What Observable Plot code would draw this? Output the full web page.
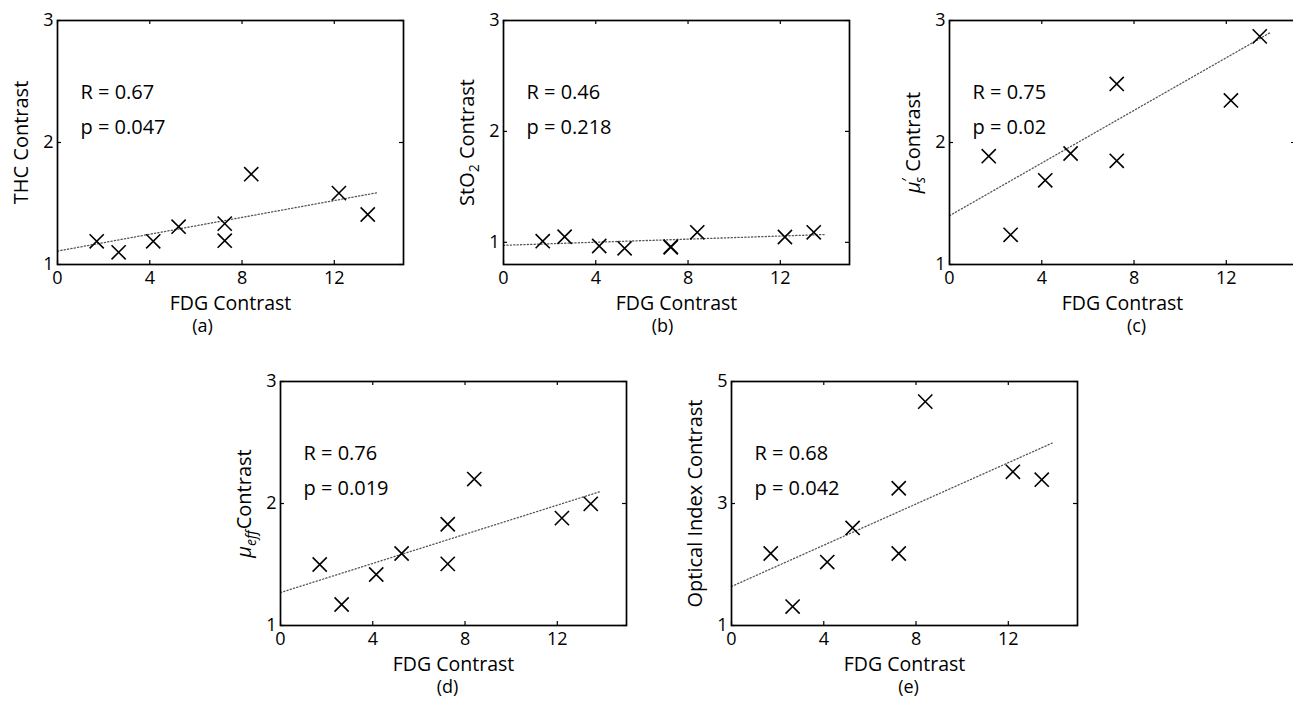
<!DOCTYPE html>
<html><head><meta charset="utf-8">
<script src="https://cdn.jsdelivr.net/npm/d3@7"></script>
<script src="https://cdn.jsdelivr.net/npm/@observablehq/plot@0.6"></script>
<style>
html,body{margin:0;padding:0;background:#fff;overflow:hidden;}
#root{position:relative;width:1293px;height:706px;overflow:hidden;background:#fff;}
.panel{position:absolute;}
.panel svg{max-width:none !important;}
</style></head><body><div id="root"></div>
<script>
// ---- data ----
const fdg     = [1.7, 2.65, 4.15, 5.25, 7.25, 7.25, 8.4, 12.2, 13.45];
const thc     = [1.19, 1.10, 1.19, 1.31, 1.335, 1.195, 1.74, 1.585, 1.41];
const sto2    = [1.01, 1.05, 0.967, 0.946, 0.96, 0.955, 1.09, 1.048, 1.09];
const musp    = [1.888, 1.243, 1.69, 1.91, 2.48, 1.85, null, 2.345, 2.87];
const mueff   = [1.50, 1.172, 1.418, 1.59, 1.83, 1.505, 2.20, 1.88, 1.997];
const optical = [2.18, 1.31, 2.04, 2.60, 3.25, 2.18, 4.67, 3.52, 3.39];

const fitX     = [0, 13.9];
const thcFit   = [1.11, 1.59];
const sto2Fit  = [0.973, 1.07];
const muspFit  = [1.40, 2.90];
const mueffFit = [1.27, 2.10];
const optFit   = [1.64, 3.99];

const xDomain = [0, 15];
const xTicks  = [0, 4, 8, 12];
const yTicks123 = [1, 2, 3];
const yTicks135 = [1, 3, 5];

const rValues = ["R = 0.67", "R = 0.46", "R = 0.75", "R = 0.76", "R = 0.68"];
const pValues = ["p = 0.047", "p = 0.218", "p = 0.02", "p = 0.019", "p = 0.042"];
const yLabels = ["THC Contrast", "StO2 Contrast", "μs' Contrast", "μeff Contrast", "Optical Index Contrast"];
const captions = ["(a)", "(b)", "(c)", "(d)", "(e)"];
const xLabel = "FDG Contrast";

// ---- layout ----
const FONT = "'Open Sans', 'DejaVu Sans', sans-serif";
const FW = 346, FH = 244, TL = 4;
const ML = 62, MR = 12, MT = 12, MB = 82;
const layout = [
  {left: 57,  top: 20,  capDx: -28},
  {left: 503, top: 20,  capDx: -14},
  {left: 949, top: 20,  capDx: 14},
  {left: 280, top: 381, capDx: -6},
  {left: 731, top: 381, capDx: 4}
];

const panels = [
  {y: thc,     fit: thcFit,   yDomain: [1, 3],   yTicks: yTicks123},
  {y: sto2,    fit: sto2Fit,  yDomain: [0.8, 3], yTicks: yTicks123},
  {y: musp,    fit: muspFit,  yDomain: [1, 3],   yTicks: yTicks123},
  {y: mueff,   fit: mueffFit, yDomain: [1, 3],   yTicks: yTicks123},
  {y: optical, fit: optFit,   yDomain: [1, 5],   yTicks: yTicks135}
];

const rich = {
  "StO2 Contrast": [{t: "StO"}, {t: "2", dy: 5, size: "14px"}, {t: " Contrast", dy: -5}],
  "μs' Contrast": [{t: "μ", italic: true}, {t: "′", dy: -8, size: "15px"}, {t: "s", dx: -5, dy: 13, size: "14px", italic: true}, {t: " Contrast", dy: -5}],
  "μeff Contrast": [{t: "μ", italic: true}, {t: "eff", dy: 5, size: "14px", italic: true}, {t: "Contrast", dy: -5, dx: 1}]
};

const root = document.getElementById("root");
panels.forEach((cfg, i) => {
  const pts = fdg.map((x, j) => ({x, y: cfg.y[j]})).filter(d => d.y != null);
  const fit = fitX.map((x, j) => ({x, y: cfg.fit[j]}));
  const W = ML + FW + MR, H = MT + FH + MB;
  const svg = Plot.plot({
    width: W, height: H,
    marginLeft: ML, marginRight: MR, marginTop: MT, marginBottom: MB,
    style: {fontFamily: FONT, fontSize: "18px", color: "black", background: "transparent", overflow: "visible", maxWidth: "none"},
    x: {domain: xDomain, label: null},
    y: {domain: cfg.yDomain, label: null},
    marks: [
      Plot.ruleX(xTicks, {insetTop: FH - TL, stroke: "black", strokeWidth: 1.2}),
      Plot.ruleX(xTicks, {insetBottom: FH - TL, stroke: "black", strokeWidth: 1.2}),
      Plot.ruleY(cfg.yTicks, {insetRight: FW - TL, stroke: "black", strokeWidth: 1.2}),
      Plot.ruleY(cfg.yTicks, {insetLeft: FW - TL, stroke: "black", strokeWidth: 1.2}),
      Plot.line(fit, {x: "x", y: "y", stroke: "#555", strokeWidth: 1.3, strokeDasharray: "1.2 2.2"}),
      Plot.dot(pts, {x: "x", y: "y", symbol: "times", r: 6.5, stroke: "black", strokeWidth: 1.6}),
      Plot.frame({stroke: "black", strokeWidth: 1.7}),
      Plot.axisX({ticks: xTicks, tickFormat: "d", tickSize: 0, tickPadding: 7, fontSize: 18, label: null}),
      Plot.axisY({ticks: cfg.yTicks, tickFormat: "d", tickSize: 0, tickPadding: 4, fontSize: 18, label: null}),
      Plot.text([rValues[i]], {text: d => d, frameAnchor: "top-left", dx: 23, dy: 64, textAnchor: "start", fontSize: 20}),
      Plot.text([pValues[i]], {text: d => d, frameAnchor: "top-left", dx: 23, dy: 99, textAnchor: "start", fontSize: 20}),
      Plot.text([xLabel], {text: d => d, frameAnchor: "bottom", dy: 45, fontSize: 19.5}),
      Plot.text([captions[i]], {text: d => d, frameAnchor: "bottom", dy: 67, dx: layout[i].capDx, fontSize: 18}),
      Plot.text([yLabels[i]], {text: d => d, frameAnchor: "left", dx: -30, rotate: -90, textAnchor: "middle", lineAnchor: "bottom", fontSize: 20})
    ]
  });
  // rich-text axis labels (subscripts)
  const parts = rich[yLabels[i]];
  if (parts) {
    d3.select(svg).selectAll("text").filter(function() { return this.textContent === yLabels[i]; }).each(function() {
      const t = d3.select(this);
      t.text(null);
      parts.forEach(p => {
        const ts = t.append("tspan").text(p.t);
        if (p.dy) ts.attr("dy", p.dy);
        if (p.dx) ts.attr("dx", p.dx);
        if (p.size) ts.style("font-size", p.size);
        if (p.italic) ts.style("font-style", "italic");
      });
    });
  }
  const div = document.createElement("div");
  div.className = "panel";
  div.style.left = (layout[i].left - ML) + "px";
  div.style.top = (layout[i].top - MT) + "px";
  div.style.width = W + "px";
  div.style.height = H + "px";
  div.appendChild(svg);
  root.appendChild(div);
});
</script>
</body></html>
